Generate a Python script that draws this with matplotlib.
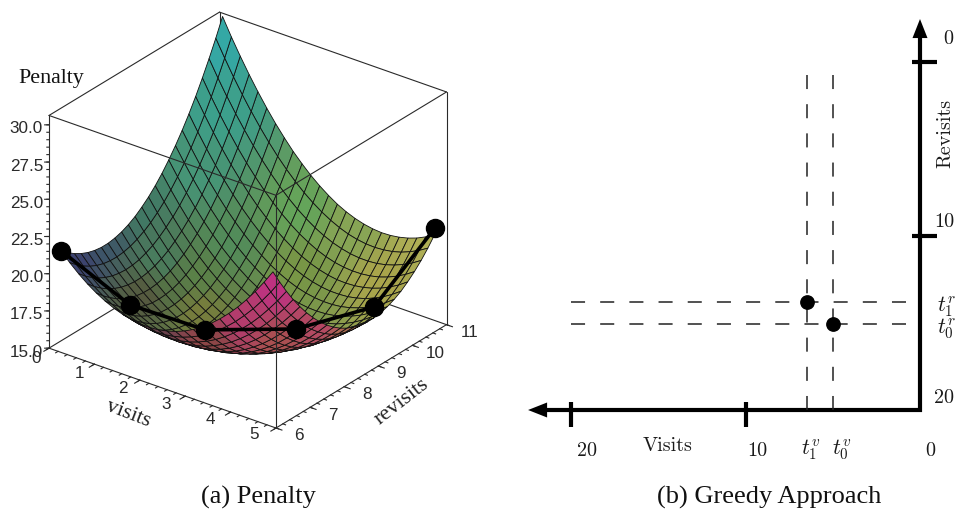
import numpy as np
import matplotlib
matplotlib.use("Agg")
import matplotlib.pyplot as plt
from matplotlib.patches import FancyArrowPatch
from mpl_toolkits.mplot3d import proj3d

W, H = 955, 514

# ---------- data ----------
visits_grid = np.linspace(0.165, 4.835, 25)
revisits_grid = np.linspace(6.13, 10.87, 25)
penalty_read = [
[21.48,21.05,20.69,20.40,20.17,20.01,19.91,19.88,19.92,20.02,20.19,20.42,20.73,21.09,21.52,22.02,22.59,23.22,23.91,24.67,25.50,26.40,27.36,28.38,29.48],
[20.90,20.46,20.08,19.77,19.52,19.34,19.23,19.18,19.20,19.28,19.43,19.65,19.93,20.28,20.69,21.17,21.72,22.33,23.01,23.75,24.56,25.43,26.38,27.38,28.45],
[20.39,19.93,19.53,19.20,18.94,18.74,18.61,18.54,18.54,18.60,18.74,18.93,19.20,19.53,19.92,20.38,20.91,21.50,22.16,22.89,23.68,24.53,25.46,26.44,27.50],
[19.94,19.46,19.05,18.70,18.42,18.20,18.05,17.96,17.94,17.99,18.10,18.28,18.52,18.84,19.21,19.65,20.16,20.74,21.38,22.08,22.86,23.70,24.60,25.57,26.61],
[19.56,19.06,18.63,18.26,17.96,17.72,17.55,17.45,17.41,17.44,17.53,17.69,17.92,18.21,18.57,18.99,19.48,20.04,20.66,21.35,22.10,22.92,23.81,24.76,25.78],
[19.24,18.72,18.27,17.88,17.56,17.31,17.12,16.99,16.94,16.95,17.02,17.16,17.37,17.65,17.98,18.39,18.86,19.40,20.00,20.67,21.41,22.21,23.07,24.01,25.01],
[18.98,18.44,17.97,17.56,17.22,16.95,16.74,16.60,16.53,16.52,16.58,16.70,16.89,17.14,17.46,17.85,18.30,18.82,19.41,20.06,20.77,21.56,22.41,23.32,24.30],
[18.78,18.22,17.73,17.31,16.95,16.66,16.43,16.28,16.18,16.15,16.19,16.30,16.47,16.70,17.01,17.37,17.81,18.31,18.87,19.51,20.20,20.97,21.80,22.69,23.66],
[18.64,18.07,17.56,17.12,16.74,16.43,16.19,16.01,15.90,15.85,15.87,15.96,16.11,16.33,16.61,16.96,17.38,17.86,18.40,19.02,19.70,20.44,21.25,22.13,23.07],
[18.57,17.98,17.45,16.99,16.59,16.27,16.00,15.81,15.68,15.61,15.61,15.68,15.81,16.01,16.28,16.61,17.00,17.47,18.00,18.59,19.25,19.98,20.77,21.63,22.56],
[18.56,17.95,17.40,16.92,16.51,16.16,15.88,15.67,15.52,15.43,15.42,15.46,15.58,15.76,16.01,16.32,16.70,17.14,17.65,18.23,18.87,19.58,20.35,21.19,22.10],
[18.61,17.98,17.42,16.92,16.49,16.12,15.82,15.59,15.42,15.32,15.28,15.31,15.41,15.57,15.80,16.09,16.45,16.88,17.37,17.93,18.55,19.24,20.00,20.82,21.71],
[18.73,18.08,17.49,16.98,16.53,16.14,15.83,15.57,15.39,15.27,15.21,15.22,15.30,15.44,15.65,15.93,16.27,16.68,17.15,17.69,18.29,18.97,19.70,20.51,21.38],
[18.90,18.24,17.63,17.10,16.63,16.23,15.89,15.62,15.41,15.28,15.20,15.20,15.25,15.38,15.57,15.83,16.15,16.54,16.99,17.51,18.10,18.75,19.47,20.26,21.10],
[19.14,18.46,17.84,17.28,16.80,16.38,16.02,15.73,15.51,15.35,15.26,15.23,15.27,15.38,15.55,15.79,16.09,16.46,16.90,17.40,17.97,18.60,19.30,20.07,20.90],
[19.44,18.74,18.10,17.53,17.02,16.58,16.21,15.90,15.66,15.48,15.37,15.33,15.35,15.44,15.59,15.81,16.10,16.45,16.87,17.35,17.90,18.51,19.20,19.94,20.76],
[19.81,19.09,18.43,17.84,17.31,16.86,16.46,16.14,15.88,15.68,15.55,15.49,15.49,15.56,15.70,15.90,16.16,16.50,16.90,17.36,17.89,18.49,19.15,19.88,20.68],
[20.24,19.50,18.82,18.21,17.67,17.19,16.78,16.43,16.15,15.94,15.79,15.71,15.70,15.75,15.86,16.05,16.29,16.61,16.99,17.44,17.95,18.53,19.17,19.88,20.66],
[20.73,19.97,19.27,18.65,18.08,17.59,17.16,16.79,16.50,16.26,16.10,16.00,15.96,16.00,16.09,16.26,16.49,16.78,17.14,17.57,18.07,18.63,19.25,19.94,20.70],
[21.28,20.50,19.79,19.14,18.56,18.05,17.60,17.22,16.90,16.65,16.46,16.35,16.29,16.31,16.39,16.53,16.74,17.02,17.36,17.77,18.25,18.79,19.39,20.07,20.81],
[21.89,21.10,20.36,19.70,19.10,18.57,18.10,17.70,17.36,17.09,16.89,16.75,16.68,16.68,16.74,16.87,17.06,17.32,17.64,18.03,18.49,19.01,19.60,20.25,20.98],
[22.57,21.75,21.00,20.32,19.70,19.15,18.67,18.25,17.89,17.60,17.38,17.23,17.14,17.11,17.16,17.26,17.44,17.68,17.98,18.36,18.79,19.30,19.87,20.50,21.21],
[23.31,22.48,21.71,21.01,20.37,19.80,19.29,18.86,18.48,18.18,17.94,17.76,17.65,17.61,17.64,17.73,17.88,18.10,18.39,18.74,19.16,19.65,20.20,20.82,21.50],
[24.11,23.26,22.47,21.75,21.10,20.51,19.98,19.53,19.14,18.81,18.55,18.36,18.23,18.17,18.18,18.25,18.39,18.59,18.86,19.19,19.59,20.06,20.59,21.19,21.86],
[24.98,24.11,23.30,22.56,21.89,21.28,20.74,20.26,19.85,19.51,19.23,19.02,18.88,18.80,18.78,18.84,18.95,19.14,19.39,19.70,20.09,20.54,21.05,21.63,22.28],
]
axis_scale = 1.0425   # the tick labels sit a little tighter than the box height
# corrections read at the four corners of the surface: (v low, v high) x (r low, r high)
corner_fix = [[-0.20, 0.60], [-0.27, -1.55]]
center_fix = 0.35

path_visits = [0.26, 1.78, 3.44, 4.835, 4.835, 4.835]
path_revisits = [6.0, 6.0, 6.0, 6.8, 9.1, 10.87]
path_penalty = [21.83, 19.82, 19.92, 20.36, 18.66, 21.47]

visit_ticks = [0, 1, 2, 3, 4, 5]
revisit_ticks = [6, 7, 8, 9, 10, 11]
penalty_ticks = [15.0, 17.5, 20.0, 22.5, 25.0, 27.5, 30.0]
penalty_top = 30.63

greedy_visit_ticks = [20, 10]
greedy_revisit_ticks = [0, 10]
greedy_limit = 20
t_visits = [5.0, 6.48]       # t0, t1
t_revisits = [15.05, 13.8]   # t0, t1

# ---------- fonts ----------
plt.rcParams["mathtext.fontset"] = "cm"
SANS = "Liberation Sans"
SERIF = "Liberation Serif"
CM = "cmr10"
INK = "#2a2a2a"

fig = plt.figure(figsize=(W / 100, H / 100), dpi=100)


def fx(x):
    return x / W


def fy(y):
    return 1 - y / H


# ---------- panel (a): orthographic 3-D box ----------
S0 = 480.0
ax = fig.add_axes([0.0, 0.0, S0 / W, S0 / H], projection="3d",
                  proj_type="ortho", computed_zorder=False)
ax.view_init(elev=27.5, azim=-52.7)
ax.set_box_aspect((285, 281, 262))
ax.set_xlim(0, 5, view_margin=0)
ax.set_ylim(6, 11, view_margin=0)
ax.set_zlim(15, penalty_top, view_margin=0)
ax.set_xticks([])
ax.set_yticks([])
ax.set_zticks([])
ax.set_axis_off()


def to_px(x, y, z):
    xs, ys, _ = proj3d.proj_transform(np.asarray(x, float), np.asarray(y, float),
                                      np.asarray(z, float), ax.get_proj())
    return ax.transData.transform(np.c_[np.ravel(xs), np.ravel(ys)])


# fit the box onto its place in the figure
fig.canvas.draw()
bb = ax.get_position()
center = np.array([(bb.x0 + bb.x1) / 2 * W, (bb.y0 + bb.y1) / 2 * H])
side = bb.width * W
a_px = to_px([0], [6], [15])[0]
b_px = to_px([5], [6], [15])[0]
k = 227.0 / (b_px[0] - a_px[0])
target = np.array([276.0, H - 428.0])
new_center = target - k * (b_px - center)
new_side = side * k
ax.set_position([(new_center[0] - new_side / 2) / W, (new_center[1] - new_side / 2) / H,
                 new_side / W, new_side / H])
fig.canvas.draw()

V, R = np.meshgrid(visits_grid, revisits_grid, indexing="ij")
p, q = np.meshgrid(np.linspace(0, 1, 25), np.linspace(0, 1, 25), indexing="ij")
Z = 15 + (np.array(penalty_read) - 15) * axis_scale
Z = Z + (corner_fix[0][0] * (1 - p) * (1 - q) + corner_fix[0][1] * (1 - p) * q
         + corner_fix[1][0] * p * (1 - q) + corner_fix[1][1] * p * q)
Z = Z + center_fix * 16 * p * (1 - p) * q * (1 - q)

# which side of each cell faces the viewer
sx, sy, sz = 285 / 5, 281 / 5, 262 / (penalty_top - 15)
dzdv = (Z[1:, :-1] - Z[:-1, :-1] + Z[1:, 1:] - Z[:-1, 1:]) / 2 / (visits_grid[1] - visits_grid[0])
dzdr = (Z[:-1, 1:] - Z[:-1, :-1] + Z[1:, 1:] - Z[1:, :-1]) / 2 / (revisits_grid[1] - revisits_grid[0])
el, az = np.radians(27.5), np.radians(-52.7)
view = np.array([np.cos(el) * np.cos(az), np.cos(el) * np.sin(az), np.sin(el)])
facing_up = (-dzdv * sz / sx * view[0] - dzdr * sz / sy * view[1] + view[2]) > 0

# colours: Maple's coloured lights, as seen at places of the picture
top_xy = np.array([(222, 40), (220, 110), (200, 170), (130, 205), (100, 240), (75, 258), (160, 260),
                   (230, 240), (300, 210), (350, 230), (420, 240), (300, 270), (380, 280), (200, 310),
                   (145, 295), (200, 275), (170, 285)], float)
top_rgb = np.array([(52, 168, 165), (60, 160, 140), (70, 150, 120), (62, 122, 102), (60, 85, 105),
                    (60, 65, 110), (72, 125, 95), (82, 140, 90), (100, 165, 90), (135, 165, 85),
                    (175, 175, 85), (120, 150, 70), (170, 165, 75), (120, 125, 60), (85, 88, 62),
                    (90, 130, 72), (85, 115, 70)], float)
und_xy = np.array([(276, 285), (240, 320), (320, 320), (276, 345), (210, 345), (150, 320), (90, 285),
                   (350, 335), (400, 295), (425, 255)], float)
und_rgb = np.array([(190, 50, 130), (180, 60, 110), (180, 70, 100), (170, 80, 80), (140, 70, 70),
                    (100, 65, 75), (90, 70, 115), (170, 110, 80), (190, 160, 90), (195, 185, 100)], float)


def blend(pts, xy, rgb):
    d2 = ((pts[:, None, :] - xy[None, :, :]) ** 2).sum(axis=2) + 60.0
    w = d2 ** -1.5
    return (w[..., None] * rgb[None, :, :]).sum(axis=1) / w.sum(axis=1, keepdims=True)


cv = (V[:-1, :-1] + V[1:, 1:]) / 2
cr = (R[:-1, :-1] + R[1:, 1:]) / 2
cz = (Z[:-1, :-1] + Z[1:, 1:] + Z[1:, :-1] + Z[:-1, 1:]) / 4
pix = to_px(cv.ravel(), cr.ravel(), cz.ravel())
pix[:, 1] = H - pix[:, 1]
rgb_top = blend(pix, top_xy, top_rgb)
rgb_und = blend(pix, und_xy, und_rgb)
rgb = np.where(facing_up.ravel()[:, None], rgb_top, rgb_und) / 255.0
face = np.concatenate([rgb, np.ones((rgb.shape[0], 1))], axis=1).reshape(cv.shape + (4,))

box = dict(color=INK, lw=0.8, solid_capstyle="round")
zb, zt = 15, penalty_top


def edge(p0, p1, order):
    ax.plot([p0[0], p1[0]], [p0[1], p1[1]], [p0[2], p1[2]], zorder=order, **box)


# box edges behind the surface
edge((0, 6, zb), (0, 11, zb), 1)
edge((0, 11, zb), (5, 11, zb), 1)
edge((0, 11, zb), (0, 11, zt), 1)
edge((0, 6, zt), (0, 11, zt), 1)
edge((0, 11, zt), (5, 11, zt), 1)
edge((0, 6, zb), (0, 6, zt), 1)
edge((5, 11, zb), (5, 11, zt), 1)

ax.plot_surface(V, R, Z, facecolors=face, rstride=1, cstride=1, shade=False,
                edgecolor="#111111", linewidth=0.6, antialiased=True, zorder=2)

# box edges in front of it
edge((0, 6, zt), (5, 6, zt), 3)
edge((5, 6, zt), (5, 11, zt), 3)
edge((5, 6, zb), (5, 6, zt), 3)
edge((0, 6, zb), (5, 6, zb), 3)
edge((5, 6, zb), (5, 11, zb), 3)


def tick_segments(x0, y0, z0, dx, dy, dz):
    xs, ys, zs = [], [], []
    for a, b, c in zip(x0, y0, z0):
        xs += [a, a + dx, np.nan]
        ys += [b, b + dy, np.nan]
        zs += [c, c + dz, np.nan]
    return xs, ys, zs


tick_style = dict(color=INK, lw=0.8, zorder=3)
minor_v = np.arange(0, 5.01, 0.2)
ax.plot(*tick_segments(minor_v, [6] * len(minor_v), [15] * len(minor_v), 0, -0.07, 0), **tick_style)
ax.plot(*tick_segments(visit_ticks, [6] * 6, [15] * 6, 0, -0.15, 0), **tick_style)
minor_r = np.arange(6, 11.01, 0.2)
ax.plot(*tick_segments([5] * len(minor_r), minor_r, [15] * len(minor_r), 0.06, 0, 0), **tick_style)
ax.plot(*tick_segments([5] * 6, revisit_ticks, [15] * 6, 0.13, 0, 0), **tick_style)
minor_z = np.arange(15, 30.01, 0.5)
ax.plot(*tick_segments([0] * len(minor_z), [6] * len(minor_z), minor_z, -0.03, -0.023, 0), **tick_style)
ax.plot(*tick_segments([0] * 7, [6] * 7, penalty_ticks, -0.06, -0.047, 0), **tick_style)

label_style = dict(family=SANS, fontsize=12.3, color=INK, ha="center", va="center", zorder=6)
for v in visit_ticks:
    ax.text(0.044 + 0.96 * v, 5.55, 15, str(v), **label_style)
for r in revisit_ticks:
    ax.text(5.5, r, 15, str(r), **label_style)
for z in penalty_ticks:
    ax.text(-0.085, 5.935, z - 0.27, f"{z:.1f}", **{**label_style, "ha": "right"})

# the greedy path
ax.plot(path_visits, path_revisits, path_penalty, color="black", lw=2.6, zorder=5,
        marker="o", ms=13, mfc="black", mec="black")

fig.text(fx(51), fy(78), "Penalty", family=SERIF, fontsize=15.8, color="#111111", ha="center", va="center")
fig.text(fx(128), fy(414), "visits", family=SERIF, fontsize=15.8, color="#222222", ha="center", va="center",
         rotation=-21, rotation_mode="anchor")
fig.text(fx(402), fy(402), "revisits", family=SERIF, fontsize=15.8, color="#222222", ha="center", va="center",
         rotation=38, rotation_mode="anchor")
fig.text(fx(258), fy(497), "(a) Penalty", family=SERIF, fontsize=19, color="#111111", ha="center", va="center")
fig.text(fx(769), fy(497), "(b) Greedy Approach", family=SERIF, fontsize=19, color="#111111", ha="center", va="center")

# ---------- panel (b) ----------
left, right, top, bottom = 520, 950, 10, 470
bx = fig.add_axes([fx(left), fy(bottom), (right - left) / W, (bottom - top) / H])
bx.set_xlim((920 - left) / 17.45, (920 - right) / 17.45)
bx.set_ylim((bottom - 62) / 17.4, (top - 62) / 17.4)
bx.set_xticks([])
bx.set_yticks([])
bx.axis("off")

heavy = dict(color="black", lw=3.0, solid_capstyle="butt", clip_on=False)
bx.plot([0, 0], [greedy_limit + 0.1, -1.5], **heavy)
bx.plot([-0.12, greedy_limit + 1.5], [greedy_limit, greedy_limit], **heavy)
for t in greedy_visit_ticks:
    bx.plot([t, t], [greedy_limit - 0.45, greedy_limit + 1.0], **heavy)
for t in greedy_revisit_ticks:
    bx.plot([0.45, -1.0], [t, t], **heavy)

arrow = dict(arrowstyle="-|>,head_length=13.7,head_width=5.4", mutation_scale=1, color="black",
             lw=0, shrinkA=0, shrinkB=0, clip_on=False)
bx.add_patch(FancyArrowPatch((0, -1.0), (0, -2.47), **arrow))
bx.add_patch(FancyArrowPatch((21.0, greedy_limit), (22.46, greedy_limit), **arrow))

dash = dict(color="#222222", lw=1.1, dashes=(9.2, 9.9), dash_capstyle="butt")
for t in t_visits:
    bx.plot([t, t], [0.75, greedy_limit], **dash)
for t in t_revisits:
    bx.plot([greedy_limit, 0.8], [t, t], **dash)
bx.plot(t_visits, t_revisits, ls="none", marker="o", ms=9.6, color="black", zorder=4)

cm_text = dict(family=CM, fontsize=14.5, color="#1a1a1a", ha="center", va="center")
fig.text(fx(587), fy(451), "20", **cm_text)
fig.text(fx(757), fy(451), "10", **cm_text)
fig.text(fx(930), fy(451), "0", **cm_text)
fig.text(fx(668), fy(446), "Visits", **cm_text)
fig.text(fx(948), fy(39), "0", **cm_text)
fig.text(fx(944), fy(222), "10", **cm_text)
fig.text(fx(944), fy(398), "20", **cm_text)
fig.text(fx(945), fy(133), "Revisits", rotation=90, **cm_text)

math_text = dict(fontsize=15.5, color="#1a1a1a", ha="center", va="center")
fig.text(fx(811), fy(450), r"$t_1^v$", **math_text)
fig.text(fx(842), fy(450), r"$t_0^v$", **math_text)
fig.text(fx(946), fy(307), r"$t_1^r$", **math_text)
fig.text(fx(946), fy(329), r"$t_0^r$", **math_text)

fig.savefig("out.png", dpi=100)
